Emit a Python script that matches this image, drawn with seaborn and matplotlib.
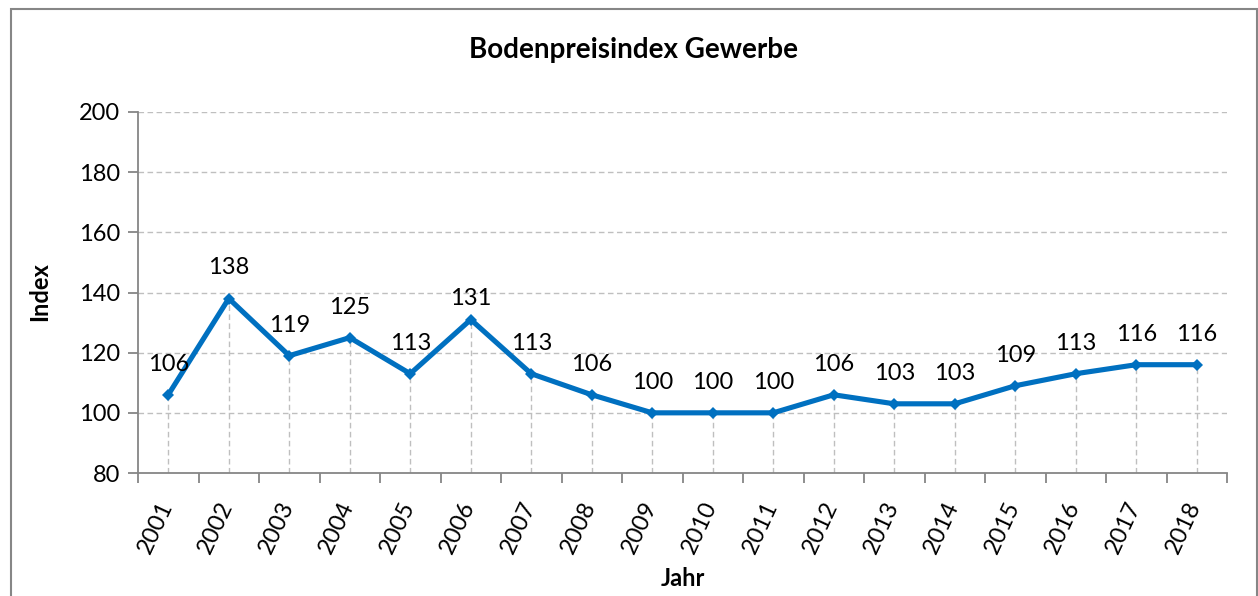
import matplotlib
matplotlib.use('Agg')
import matplotlib.pyplot as plt
import matplotlib.transforms as mtransforms
from matplotlib.patches import Rectangle
import pandas as pd
import seaborn as sns

# ─── Data ─────────────────────────────────────────────────────────────────────

years = ['2001', '2002', '2003', '2004', '2005', '2006', '2007', '2008', '2009',
         '2010', '2011', '2012', '2013', '2014', '2015', '2016', '2017', '2018']
index_values = [106, 138, 119, 125, 113, 131, 113, 106, 100,
                100, 100, 106, 103, 103, 109, 113, 116, 116]
y_ticks = [80, 100, 120, 140, 160, 180, 200]

title = 'Bodenpreisindex Gewerbe'
x_label = 'Jahr'
y_label = 'Index'

LINE_COLOR = '#0070C0'
GRID_COLOR = '#BFBFBF'
AXIS_COLOR = '#868686'
FS = 17

# ─── Plot ─────────────────────────────────────────────────────────────────────

sns.set_style('white')
plt.rcParams['font.family'] = ['Lato', 'DejaVu Sans']
plt.rcParams['text.color'] = 'black'
plt.rcParams['xtick.labelcolor'] = 'black'
plt.rcParams['ytick.labelcolor'] = 'black'

df = pd.DataFrame({'Jahr': years, 'Index': index_values})
pos = list(range(len(years)))

fig = plt.figure(figsize=(12.58, 5.96), dpi=100)
ax = fig.add_axes([138 / 1258, 1 - 473 / 596, (1227 - 138) / 1258, (473 - 112) / 596])

# drop lines from axis to each point
ax.vlines(pos, y_ticks[0], index_values, colors=GRID_COLOR,
          linestyles=(0, (4, 2.5)), linewidth=1.0, zorder=1)
for yv in y_ticks[1:]:
    ax.axhline(yv, color=GRID_COLOR, linestyle=(0, (4, 2.5)), linewidth=1.0, zorder=1)

sns.lineplot(data=df, x='Jahr', y='Index', ax=ax, color=LINE_COLOR,
             linewidth=3.7, marker='D', markersize=6.5, markeredgewidth=0,
             sort=False, zorder=3)

# the 2006 label sits a bit closer to its point in the original
for p, yr, v in zip(pos, years, index_values):
    dy = 15 if yr == '2006' else 22
    ax.annotate(str(v), (p, v), xytext=(0, dy), textcoords='offset points',
                ha='center', va='center', fontsize=FS, color='black')

ax.set_xlim(-0.5, len(years) - 0.5)
ax.set_ylim(y_ticks[0], y_ticks[-1])
ax.set_yticks(y_ticks)
ax.set_xticks(pos)
ax.set_xticklabels(years, rotation=65, ha='right', va='top', fontsize=FS)
ax.set_xticks([p + 0.5 for p in [-1] + pos], minor=True)
ax.tick_params(axis='x', which='major', length=0, pad=8)
ax.tick_params(axis='x', which='minor', length=7, width=1.3, color=AXIS_COLOR,
               direction='out', bottom=True)
ax.tick_params(axis='y', length=7, width=1.3, color=AXIS_COLOR, direction='out',
               labelsize=FS, pad=6, left=True)

# nudge rotated year labels right and down, like the original
shift = mtransforms.ScaledTranslation(8 / 100, -14 / 100, fig.dpi_scale_trans)
for lbl in ax.get_xticklabels():
    lbl.set_transform(lbl.get_transform() + shift)

for side in ['top', 'right']:
    ax.spines[side].set_visible(False)
for side in ['left', 'bottom']:
    ax.spines[side].set_color(AXIS_COLOR)
    ax.spines[side].set_linewidth(1.3)

ax.set_xlabel('')
ax.set_ylabel('')
fig.text(683 / 1258, 1 - 578 / 596, x_label, ha='center', va='center',
         fontsize=FS, fontweight='bold')
fig.text(40 / 1258, 1 - 292 / 596, y_label, ha='center', va='center',
         rotation=90, fontsize=FS, fontweight='bold')
fig.text(634 / 1258, 1 - 50 / 596, title, ha='center', va='center',
         fontsize=20, fontweight='bold')

# chart frame
fig.patches.append(Rectangle((11 / 1258, -0.05), 1246 / 1258, 1.05 - 9 / 596,
                             transform=fig.transFigure, fill=False,
                             edgecolor=AXIS_COLOR, linewidth=1.5))

plt.savefig('out.png', dpi=100)
